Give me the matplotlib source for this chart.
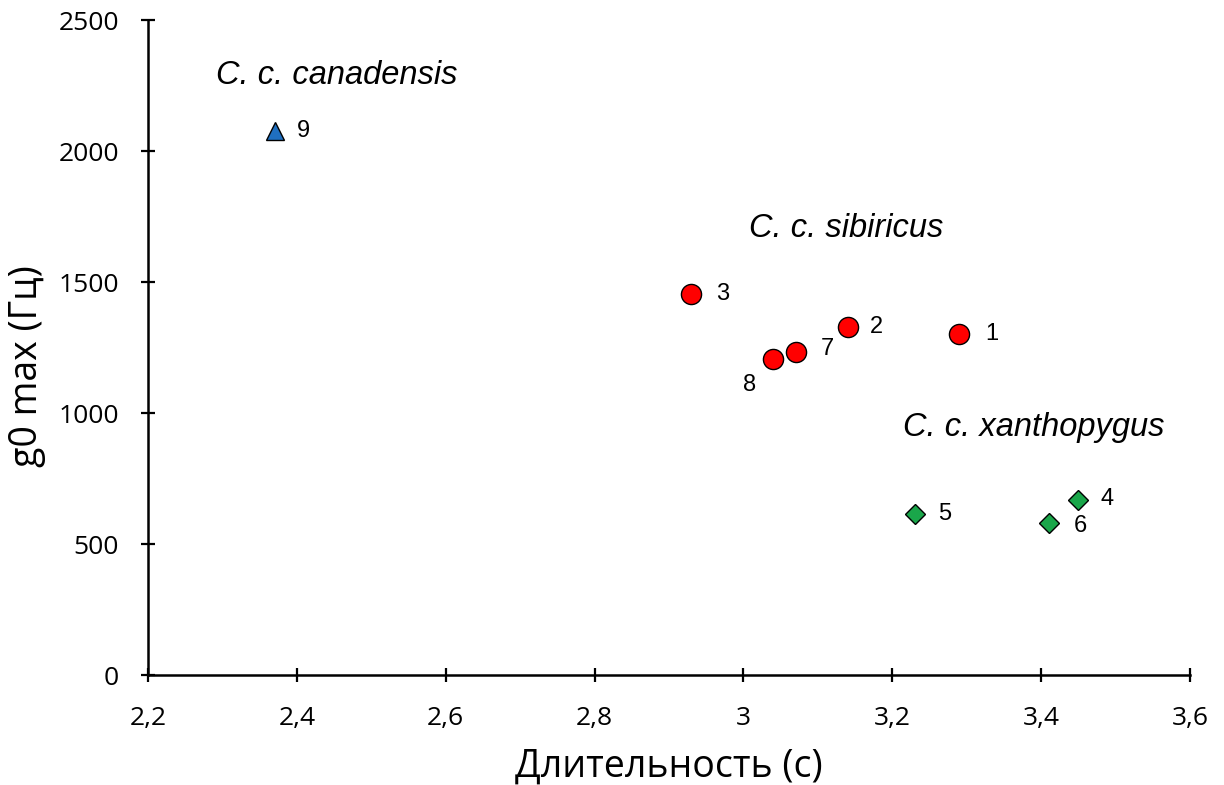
import matplotlib
matplotlib.use("Agg")
import matplotlib.pyplot as plt
from matplotlib.ticker import FuncFormatter

# data
canadensis_x = [2.37]
canadensis_y = [2076]
canadensis_ids = ["9"]

sibiricus_x = [3.29, 3.14, 2.93, 3.07, 3.04]
sibiricus_y = [1301, 1328, 1454, 1233, 1206]
sibiricus_ids = ["1", "2", "3", "7", "8"]

xanthopygus_x = [3.45, 3.23, 3.41]
xanthopygus_y = [668, 614, 580]
xanthopygus_ids = ["4", "5", "6"]

# label offsets in points (dx, dy) for point numbers
offsets = {"9": (16, 0), "1": (19, 0), "2": (16, 0), "3": (18, 0), "7": (18, 2),
           "8": (-22, -19), "4": (16, 1), "5": (17, 0), "6": (18, -2)}

groups = [
    ("C. c. canadensis", canadensis_x, canadensis_y, canadensis_ids, "^", "#1f6fc0", 13, (2.453, 2290)),
    ("C. c. sibiricus", sibiricus_x, sibiricus_y, sibiricus_ids, "o", "#ff0000", 14.5, (3.138, 1706)),
    ("C. c. xanthopygus", xanthopygus_x, xanthopygus_y, xanthopygus_ids, "D", "#1aa64a", 10, (3.390, 943)),
]

fig = plt.figure(figsize=(12.24, 7.85), dpi=100)
ax = fig.add_axes([0.1209, 0.1401, 0.8513, 0.8344])

for name, xs, ys, ids, marker, color, size, (tx, ty) in groups:
    ax.plot(xs, ys, linestyle="none", marker=marker, markersize=size,
            markerfacecolor=color, markeredgecolor="black", markeredgewidth=1.0,
            clip_on=False)
    for x, y, lab in zip(xs, ys, ids):
        ax.annotate(lab, (x, y), xytext=offsets[lab], textcoords="offset points",
                    ha="left", va="center", fontsize=17, family="Liberation Sans")
    ax.text(tx, ty, name, ha="center", va="center", fontsize=23.5,
            style="italic", family="Liberation Sans")

ax.set_xlim(2.2, 3.6)
ax.set_ylim(0, 2500)
ax.set_xticks([2.2, 2.4, 2.6, 2.8, 3.0, 3.2, 3.4, 3.6])
ax.set_yticks([0, 500, 1000, 1500, 2000, 2500])
ax.xaxis.set_major_formatter(FuncFormatter(lambda v, p: f"{v:g}".replace(".", ",")))

for s in ["top", "right"]:
    ax.spines[s].set_visible(False)
for s in ["left", "bottom"]:
    ax.spines[s].set_linewidth(1.8)

ax.tick_params(direction="inout", length=10, width=1.6, labelsize=19)
ax.tick_params(axis="x", pad=17)
ax.tick_params(axis="y", pad=16)
for lab in ax.get_xticklabels() + ax.get_yticklabels():
    lab.set_family("Open Sans")

ax.set_xlabel("Длительность (с)", fontsize=27, family="Open Sans", labelpad=12)
ax.set_ylabel("g0 max (Гц)", fontsize=27, family="Open Sans")
ax.yaxis.set_label_coords(-0.098, 0.472)

fig.savefig("out.png", dpi=100)
